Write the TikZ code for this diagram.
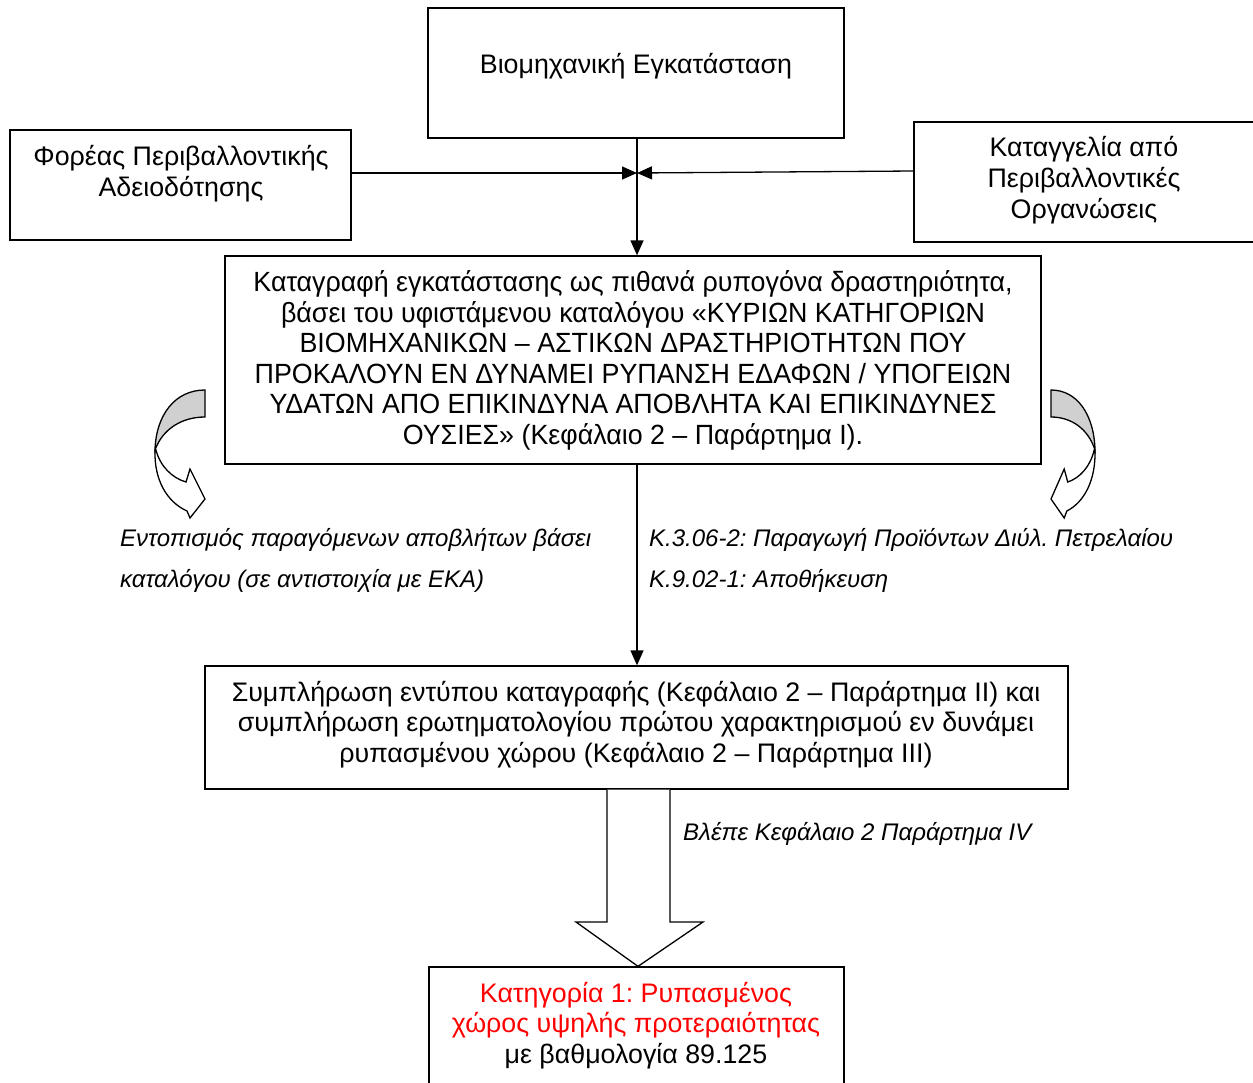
\documentclass[tikz,border=0pt]{standalone}
\usepackage{fontspec}
\setmainfont{Liberation Sans}
\newfontfamily\narrowfont[FakeStretch=0.965]{Liberation Sans}
\usetikzlibrary{arrows.meta}
\definecolor{bendgray}{RGB}{208,208,208}
\definecolor{alertred}{RGB}{255,0,0}
\frenchspacing

\tikzset{
  box/.style={draw, line width=1.3pt, fill=white, inner sep=0pt},
  txt/.style={align=center, inner sep=0pt, font=\fontsize{26.8}{30.7}\selectfont},
  narrowtxt/.style={align=center, inner sep=0pt, font=\narrowfont\fontsize{27.8}{30.6}\selectfont},
  note/.style={align=left, anchor=west, inner sep=0pt, font=\fontsize{24}{41}\selectfont\itshape},
  conn/.style={line width=1.3pt, -{Triangle[length=15pt,width=13pt]}},
  blockarrow/.style={draw, line width=1.3pt, fill=white, line join=miter},
  bendback/.style={draw, line width=1.3pt, fill=bendgray},
  bendfront/.style={draw, line width=1.3pt, fill=white, line join=miter},
}

% curved side arrow, drawn in local coordinates (origin at top of the flat end)
\newcommand{\bendarrow}[1]{%
  \begin{scope}[#1]
    \path[bendback] (0,0) .. controls (-30,0) and (-49,25) .. (-50,60)
      .. controls (-42,38) and (-22,27) .. (0,27) -- cycle;
    \path[bendfront] (-49,60) .. controls (-45,76) and (-33,88) .. (-19,92)
      -- (-15,79) -- (0,109) -- (-15,128) -- (-18,121)
      .. controls (-38,112) and (-51,90) .. (-50,60) -- cycle;
  \end{scope}}

\begin{document}
\begin{tikzpicture}[x=1pt,y=-1pt]
  \useasboundingbox (0,0) rectangle (1253,1082);
  \clip (0,0) rectangle (1253,1082);

  % boxes
  \node[box, minimum width=416pt, minimum height=130pt] (top) at (636,73) {};
  \node[box, minimum width=341pt, minimum height=110pt] (lbox) at (180.5,185) {};
  \node[box, minimum width=360pt, minimum height=120pt] (rbox) at (1094,182) {};
  \node[box, minimum width=816pt, minimum height=208pt] (main) at (633,360) {};
  \node[box, minimum width=863pt, minimum height=123pt] (form) at (636.5,727.5) {};
  \node[box, minimum width=415pt, minimum height=140pt] (cat) at (636.5,1037) {};

  % box texts
  \node[txt] (topT) at (636,66) {Βιομηχανική Εγκατάσταση};
  \node[txt] (lboxT) at (181,173.5) {Φορέας Περιβαλλοντικής\\Αδειοδότησης};
  \node[txt] (rboxT) at (1084,180) {Καταγγελία από\\Περιβαλλοντικές\\Οργανώσεις};
  \node[narrowtxt] (mainT) at (633,360.5) {Καταγραφή εγκατάστασης ως πιθανά ρυπογόνα δραστηριότητα,\\
    βάσει του υφιστάμενου καταλόγου «ΚΥΡΙΩΝ ΚΑΤΗΓΟΡΙΩΝ\\
    ΒΙΟΜΗΧΑΝΙΚΩΝ – ΑΣΤΙΚΩΝ ΔΡΑΣΤΗΡΙΟΤΗΤΩΝ ΠΟΥ\\
    ΠΡΟΚΑΛΟΥΝ ΕΝ ΔΥΝΑΜΕΙ ΡΥΠΑΝΣΗ ΕΔΑΦΩΝ / ΥΠΟΓΕΙΩΝ\\
    ΥΔΑΤΩΝ ΑΠΟ ΕΠΙΚΙΝΔΥΝΑ ΑΠΟΒΛΗΤΑ ΚΑΙ ΕΠΙΚΙΝΔΥΝΕΣ\\
    ΟΥΣΙΕΣ» (Κεφάλαιο 2 – Παράρτημα I).};
  \node[txt] (formT) at (636,724.5) {Συμπλήρωση εντύπου καταγραφής (Κεφάλαιο 2 – Παράρτημα II) και\\
    συμπλήρωση ερωτηματολογίου πρώτου χαρακτηρισμού εν δυνάμει\\
    ρυπασμένου χώρου (Κεφάλαιο 2 – Παράρτημα III)};
  \node[txt] (catT) at (636,1025.5) {\textcolor{alertred}{Κατηγορία 1: Ρυπασμένος}\\
    \textcolor{alertred}{χώρος υψηλής προτεραιότητας}\\
    με βαθμολογία 89.125};

  % side notes
  \node[note] (waste) at (120,560.5) {Εντοπισμός παραγόμενων αποβλήτων βάσει\\καταλόγου (σε αντιστοιχία με ΕΚΑ)};
  \node[note] (codes) at (649,560.5) {Κ.3.06-2: Παραγωγή Προϊόντων Διύλ. Πετρελαίου\\Κ.9.02-1: Αποθήκευση};
  \node[note, font=\fontsize{24}{30}\selectfont\itshape] (see) at (683,834) {Βλέπε Κεφάλαιο 2 Παράρτημα IV};

  % connectors
  \coordinate (j) at (637,173);
  \draw[conn] (top.south -| j) -- (main.north -| j);
  \draw[conn] (lbox.east |- j) -- (j);
  \draw[conn] (rbox.west |- 0,171) -- (j);
  \draw[conn] (main.south -| j) -- (form.north -| j);

  % block arrow from the form box down to the category box
  \path[blockarrow] (form.south -| 607,0) -- (607,922) -- (576,922)
    -- (cat.north -| 638,0) -- (703,922) -- (670,922) -- (form.south -| 670,0);

  % curved side arrows
  \bendarrow{shift={(205,390)}}
  \bendarrow{shift={(1051,390)}, xscale=-0.88}
\end{tikzpicture}
\end{document}
